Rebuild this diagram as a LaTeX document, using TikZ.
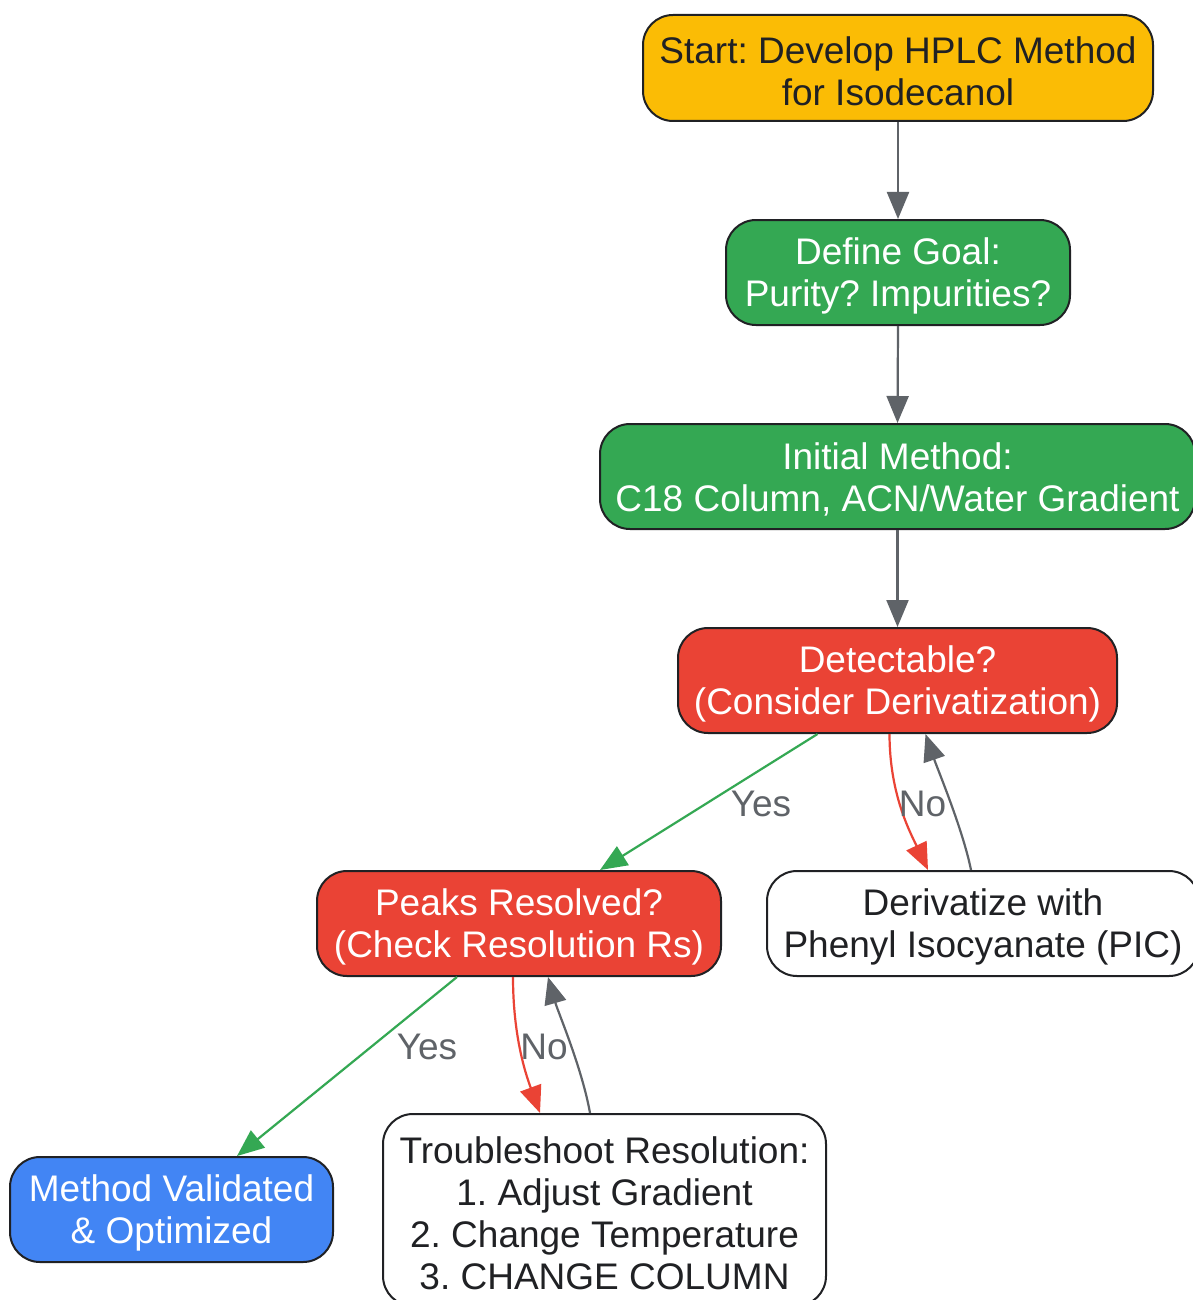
\documentclass[tikz,border=0pt]{standalone}
\usepackage{fontspec}
\setmainfont{Liberation Sans}
\usetikzlibrary{arrows.meta,calc}
\definecolor{cAmber}{HTML}{FBBC05}
\definecolor{cGreen}{HTML}{34A853}
\definecolor{cRed}{HTML}{EA4335}
\definecolor{cBlue}{HTML}{4285F4}
\definecolor{cGray}{HTML}{5F6368}
\definecolor{cInk}{HTML}{202124}
\frenchspacing
\begin{document}
\begin{tikzpicture}[x=1pt,y=-1pt,
  box/.style={draw=cInk, line width=2pt, rounded corners=30pt, inner sep=0pt},
  txt/.style={inner sep=0pt, align=center, font=\fontsize{37}{42}\selectfont},
  tip/.style={-{Triangle[length=27pt,width=22pt]}},
  flow/.style={draw=cGray, line width=2.2pt, tip},
  yesflow/.style={draw=cGreen, line width=2.2pt, tip},
  noflow/.style={draw=cRed, line width=2.2pt, tip},
  lbl/.style={text=cGray, inner sep=0pt, font=\fontsize{37}{42}\selectfont}
]
\useasboundingbox (0,0) rectangle (1192,1300);
\fill[white] (0,0) rectangle (1192,1300);

\node[box, fill=cAmber, minimum width=510pt, minimum height=106pt] (start) at (898,68) {};
\node[txt, text=cInk] (startT) at ([yshift=-3pt]start.center) {Start: Develop HPLC Method\\for Isodecanol};

\node[box, fill=cGreen, minimum width=344pt, minimum height=105pt] (goal) at (898,272.5) {};
\node[txt, text=white] (goalT) at ([yshift=-3pt]goal.center) {Define Goal:\\Purity? Impurities?};

\node[box, fill=cGreen, minimum width=595pt, minimum height=105pt] (init) at (897.5,476.5) {};
\node[txt, text=white] (initT) at ([yshift=-3pt]init.center) {Initial Method:\\C18 Column, ACN/Water Gradient};

\node[box, fill=cRed, minimum width=439pt, minimum height=105pt] (det) at (897.5,680.5) {};
\node[txt, text=white] (detT) at ([yshift=-3pt]det.center) {Detectable?\\(Consider Derivatization)};

\node[box, fill=cRed, minimum width=404pt, minimum height=105pt] (peaks) at (519,923.5) {};
\node[txt, text=white] (peaksT) at ([yshift=-3pt]peaks.center) {Peaks Resolved?\\(Check Resolution Rs)};

\node[box, fill=white, minimum width=432pt, minimum height=105pt] (deriv) at (983,923.5) {};
\node[txt, text=cInk] (derivT) at ([yshift=-3pt]deriv.center) {Derivatize with\\Phenyl Isocyanate (PIC)};

\node[box, fill=cBlue, minimum width=323pt, minimum height=105pt] (valid) at (171.5,1209.5) {};
\node[txt, text=white] (validT) at ([yshift=-3pt]valid.center) {Method Validated\\\& Optimized};

\node[box, fill=white, minimum width=443pt, minimum height=192pt] (trouble) at (604.5,1210) {};
\node[txt, text=cInk] (troubleT) at ([yshift=-3pt]trouble.center) {Troubleshoot Resolution:\\1. Adjust Gradient\\2. Change Temperature\\3. CHANGE COLUMN};

\draw[flow] (start.south) -- (goal.north);
\draw[flow] (goal.south) -- (init.north);
\draw[flow] (init.south) -- (det.north);

\draw[yesflow] ([xshift=-80pt]det.south) -- ([xshift=81pt]peaks.north);
\draw[noflow] ([xshift=-8pt]det.south) .. controls +(0,60) and +(-18,-38) .. ([xshift=-55pt]deriv.north);
\draw[flow] ([xshift=-12pt]deriv.north) .. controls +(-8,-40) and +(12,35) .. ([xshift=28pt]det.south);

\draw[yesflow] ([xshift=-62pt]peaks.south) -- ([xshift=65.5pt]valid.north);
\draw[noflow] ([xshift=-6pt]peaks.south) .. controls +(0,60) and +(-14,-38) .. ([xshift=-64.5pt]trouble.north);
\draw[flow] ([xshift=-14.5pt]trouble.north) .. controls +(-8,-45) and +(10,35) .. ([xshift=29pt]peaks.south);

\node[lbl] (yes1) at (761,804) {Yes};
\node[lbl] (no1) at (922.5,804) {No};
\node[lbl] (yes2) at (427,1047) {Yes};
\node[lbl] (no2) at (544,1047) {No};
\end{tikzpicture}
\end{document}
